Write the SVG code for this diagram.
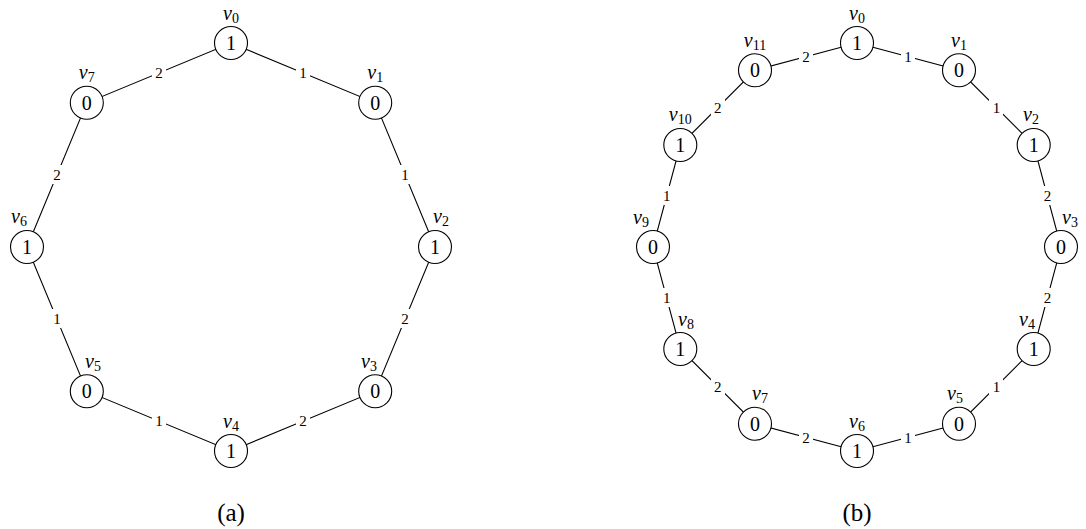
<svg xmlns="http://www.w3.org/2000/svg" width="1086" height="529" viewBox="0 0 1086 529">
  <style>
    text { font-family: "Liberation Serif", "Times New Roman", "DejaVu Serif", serif; fill: #000; text-anchor: middle; }
    .edge { stroke: #000; stroke-width: 1.1; fill: none; }
    .node circle { fill: #fff; stroke: #000; stroke-width: 1.1; }
    .val { font-size: 20px; }
    .name { font-style: italic; font-size: 20px; }
    .sub { font-style: normal; font-size: 14px; }
    .w { font-size: 15px; }
    .bg { fill: #fff; }
    .cap { font-size: 25px; }
  </style>

  <!-- (a): 8-cycle -->
  <g id="edges-a">
    <polygon class="edge" points="231,43 375.2,102.8 435,247 375.2,391.2 231,451 86.8,391.2 27,247 86.8,102.8"/>
    <g>
      <rect class="bg" x="296" y="63" width="14" height="19"/><text class="w" x="303.1" y="78">1</text>
      <rect class="bg" x="398" y="165" width="14" height="19"/><text class="w" x="405.1" y="180">1</text>
      <rect class="bg" x="398" y="309" width="14" height="19"/><text class="w" x="405.1" y="324">2</text>
      <rect class="bg" x="296" y="411" width="14" height="19"/><text class="w" x="303.1" y="426">2</text>
      <rect class="bg" x="152" y="411" width="14" height="19"/><text class="w" x="158.9" y="426">1</text>
      <rect class="bg" x="50" y="309" width="14" height="19"/><text class="w" x="56.9" y="324">1</text>
      <rect class="bg" x="50" y="165" width="14" height="19"/><text class="w" x="56.9" y="180">2</text>
      <rect class="bg" x="152" y="63" width="14" height="19"/><text class="w" x="158.9" y="78">2</text>
    </g>
  </g>

  <g id="a-v0" class="node"><circle cx="231" cy="43" r="16.5"/><text class="val" x="231" y="50">1</text><text class="name" x="231" y="20">v<tspan class="sub" dy="3">0</tspan></text></g>
  <g id="a-v1" class="node"><circle cx="375.2" cy="102.8" r="16.5"/><text class="val" x="375.2" y="109.8">0</text><text class="name" x="375.2" y="79">v<tspan class="sub" dy="3">1</tspan></text></g>
  <g id="a-v2" class="node"><circle cx="435" cy="247" r="16.5"/><text class="val" x="435" y="254">1</text><text class="name" x="441" y="223">v<tspan class="sub" dy="3">2</tspan></text></g>
  <g id="a-v3" class="node"><circle cx="375.2" cy="391.2" r="16.5"/><text class="val" x="375.2" y="398.2">0</text><text class="name" x="369" y="368">v<tspan class="sub" dy="3">3</tspan></text></g>
  <g id="a-v4" class="node"><circle cx="231" cy="451" r="16.5"/><text class="val" x="231" y="458">1</text><text class="name" x="231" y="428">v<tspan class="sub" dy="3">4</tspan></text></g>
  <g id="a-v5" class="node"><circle cx="86.8" cy="391.2" r="16.5"/><text class="val" x="86.8" y="398.2">0</text><text class="name" x="93" y="368">v<tspan class="sub" dy="3">5</tspan></text></g>
  <g id="a-v6" class="node"><circle cx="27" cy="247" r="16.5"/><text class="val" x="27" y="254">1</text><text class="name" x="19" y="223">v<tspan class="sub" dy="3">6</tspan></text></g>
  <g id="a-v7" class="node"><circle cx="86.8" cy="102.8" r="16.5"/><text class="val" x="86.8" y="109.8">0</text><text class="name" x="86.8" y="79">v<tspan class="sub" dy="3">7</tspan></text></g>

  <text class="cap" x="231" y="521">(a)</text>

  <!-- (b): 12-cycle -->
  <g id="edges-b">
    <polygon class="edge" points="857,43 959,70.3 1033.7,145 1061,247 1033.7,349 959,423.7 857,451 755,423.7 680.3,349 653,247 680.3,145 755,70.3"/>
    <g>
      <rect class="bg" x="901" y="47" width="14" height="19"/><text class="w" x="908" y="62">1</text>
      <rect class="bg" x="989" y="98" width="14" height="19"/><text class="w" x="996.4" y="113">1</text>
      <rect class="bg" x="1040" y="186" width="14" height="19"/><text class="w" x="1047.4" y="201.3">2</text>
      <rect class="bg" x="1040" y="288" width="14" height="19"/><text class="w" x="1047.4" y="303.3">2</text>
      <rect class="bg" x="989" y="377" width="14" height="19"/><text class="w" x="996.4" y="392">1</text>
      <rect class="bg" x="901" y="428" width="14" height="19"/><text class="w" x="908" y="443">1</text>
      <rect class="bg" x="799" y="428" width="14" height="19"/><text class="w" x="806" y="443">2</text>
      <rect class="bg" x="711" y="377" width="14" height="19"/><text class="w" x="717.7" y="392">2</text>
      <rect class="bg" x="660" y="288" width="14" height="19"/><text class="w" x="666.7" y="303.3">1</text>
      <rect class="bg" x="660" y="186" width="14" height="19"/><text class="w" x="666.7" y="201.3">1</text>
      <rect class="bg" x="711" y="98" width="14" height="19"/><text class="w" x="717.7" y="113">2</text>
      <rect class="bg" x="799" y="47" width="14" height="19"/><text class="w" x="806" y="62">2</text>
    </g>
  </g>

  <g id="b-v0" class="node"><circle cx="857" cy="43" r="16.5"/><text class="val" x="857" y="50">1</text><text class="name" x="857" y="20">v<tspan class="sub" dy="3">0</tspan></text></g>
  <g id="b-v1" class="node"><circle cx="959" cy="70.3" r="16.5"/><text class="val" x="959" y="77.3">0</text><text class="name" x="959" y="47">v<tspan class="sub" dy="3">1</tspan></text></g>
  <g id="b-v2" class="node"><circle cx="1033.7" cy="145" r="16.5"/><text class="val" x="1033.7" y="152">1</text><text class="name" x="1031" y="121">v<tspan class="sub" dy="3">2</tspan></text></g>
  <g id="b-v3" class="node"><circle cx="1061" cy="247" r="16.5"/><text class="val" x="1061" y="254">0</text><text class="name" x="1070" y="224">v<tspan class="sub" dy="3">3</tspan></text></g>
  <g id="b-v4" class="node"><circle cx="1033.7" cy="349" r="16.5"/><text class="val" x="1033.7" y="356">1</text><text class="name" x="1027" y="326">v<tspan class="sub" dy="3">4</tspan></text></g>
  <g id="b-v5" class="node"><circle cx="959" cy="423.7" r="16.5"/><text class="val" x="959" y="430.7">0</text><text class="name" x="955" y="400">v<tspan class="sub" dy="3">5</tspan></text></g>
  <g id="b-v6" class="node"><circle cx="857" cy="451" r="16.5"/><text class="val" x="857" y="458">1</text><text class="name" x="857" y="428">v<tspan class="sub" dy="3">6</tspan></text></g>
  <g id="b-v7" class="node"><circle cx="755" cy="423.7" r="16.5"/><text class="val" x="755" y="430.7">0</text><text class="name" x="760" y="400">v<tspan class="sub" dy="3">7</tspan></text></g>
  <g id="b-v8" class="node"><circle cx="680.3" cy="349" r="16.5"/><text class="val" x="680.3" y="356">1</text><text class="name" x="686" y="326">v<tspan class="sub" dy="3">8</tspan></text></g>
  <g id="b-v9" class="node"><circle cx="653" cy="247" r="16.5"/><text class="val" x="653" y="254">0</text><text class="name" x="641" y="224">v<tspan class="sub" dy="3">9</tspan></text></g>
  <g id="b-v10" class="node"><circle cx="680.3" cy="145" r="16.5"/><text class="val" x="680.3" y="152">1</text><text class="name" x="680.3" y="121">v<tspan class="sub" dy="3">10</tspan></text></g>
  <g id="b-v11" class="node"><circle cx="755" cy="70.3" r="16.5"/><text class="val" x="755" y="77.3">0</text><text class="name" x="755" y="47">v<tspan class="sub" dy="3">11</tspan></text></g>

  <text class="cap" x="857" y="521">(b)</text>
</svg>
